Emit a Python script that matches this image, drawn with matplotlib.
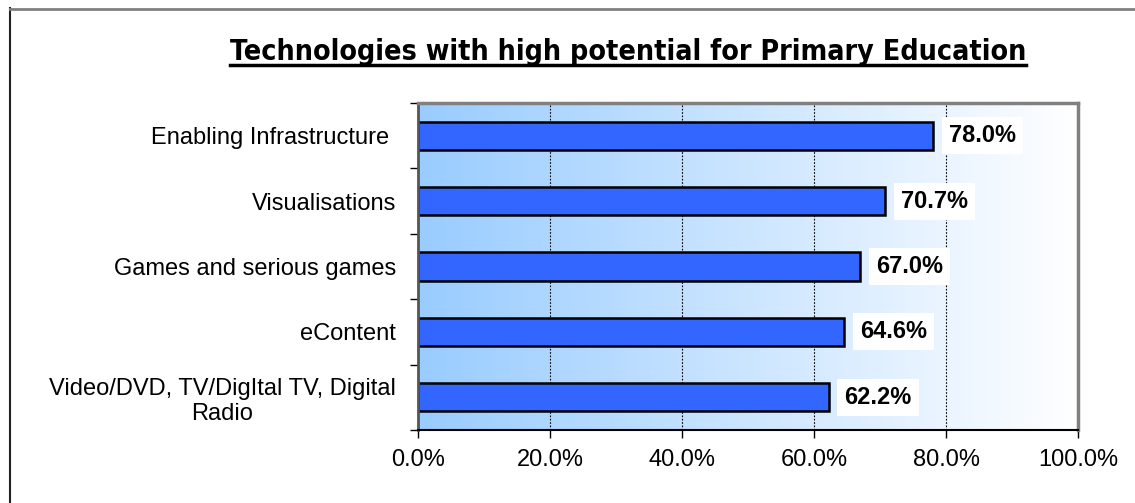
import numpy as np
import matplotlib.pyplot as plt
from matplotlib.lines import Line2D
from matplotlib.ticker import FixedLocator, FuncFormatter

categories = ["Enabling Infrastructure ", "Visualisations", "Games and serious games",
              "eContent", "Video/DVD, TV/DigItal TV, Digital\nRadio"]
values = [78.0, 70.7, 67.0, 64.6, 62.2]
xticks = [0, 20, 40, 60, 80, 100]
title = "Technologies with high potential for Primary Education"

plt.rcParams['font.family'] = ['Liberation Sans', 'DejaVu Sans']

fig = plt.figure(figsize=(11.35, 5.03), dpi=100)
ax = fig.add_axes([418 / 1135, 73 / 503, 660 / 1135, 327 / 503])

n = len(categories)
ypos = np.arange(n)[::-1]

# gradient background: light blue on the left fading to white
grad = np.linspace(0, 1, 256).reshape(1, -1)
c0 = np.array([0.60, 0.80, 1.00])
c1 = np.array([1.0, 1.0, 1.0])
img = c0[None, None, :] * (1 - grad[..., None]) + c1[None, None, :] * grad[..., None]
ax.imshow(img, extent=[0, 100, -0.5, n - 0.5], aspect='auto', zorder=0)

for x in [20, 40, 60, 80]:
    ax.axvline(x, color='black', lw=0.8, ls=(0, (1.5, 1.5)), zorder=1)

ax.barh(ypos, values, height=0.43, color='#3366FF', edgecolor='black', lw=1.8, zorder=2)

for y, v in zip(ypos, values):
    ax.annotate(f"{v:.1f}%", xy=(v, y), xytext=(11.5, 0), textcoords='offset points',
                ha='left', va='center', fontsize=17, fontweight='bold', zorder=3,
                bbox=dict(boxstyle='square,pad=0.3', fc='white', ec='none'))

ax.set_xlim(0, 100)
ax.set_ylim(-0.5, n - 0.5)
ax.xaxis.set_major_locator(FixedLocator(xticks))
ax.xaxis.set_major_formatter(FuncFormatter(lambda v, p: f"{v:.1f}%"))
ax.set_yticks(ypos)
ax.set_yticklabels(categories, multialignment='center')
ax.set_yticks(np.arange(n + 1) - 0.5, minor=True)
ax.tick_params(axis='y', which='major', length=0, pad=16, labelsize=17)
ax.tick_params(axis='y', which='minor', length=6, width=1, direction='out')
ax.tick_params(axis='x', length=6, width=1, direction='out', pad=8, labelsize=17)

ax.spines['left'].set_color('#555555')
ax.spines['left'].set_linewidth(2)
ax.spines['bottom'].set_color('black')
ax.spines['bottom'].set_linewidth(1.5)
ax.spines['top'].set_color('#808080')
ax.spines['top'].set_linewidth(2.5)
ax.spines['right'].set_color('#808080')
ax.spines['right'].set_linewidth(2.5)

# title with underline
t = fig.text(628 / 1135, 1 - 52 / 503, title, ha='center', va='center',
             fontsize=20.5, fontweight='bold', family='DejaVu Sans', fontstretch='condensed')
fig.canvas.draw()
bb = t.get_window_extent()
uy = bb.y0 + 1
fig.add_artist(Line2D([bb.x0 / 1135, bb.x1 / 1135], [uy / 503, uy / 503],
                      color='black', lw=2.5, transform=fig.transFigure))

# outer chart frame
fig.add_artist(Line2D([9.5 / 1135, 9.5 / 1135], [0, 1 - 8 / 503], color='#222222', lw=1.5,
                      transform=fig.transFigure))
fig.add_artist(Line2D([9.5 / 1135, 1], [1 - 9 / 503, 1 - 9 / 503], color='#808080', lw=2,
                      transform=fig.transFigure))

fig.savefig('out.png', dpi=100)
